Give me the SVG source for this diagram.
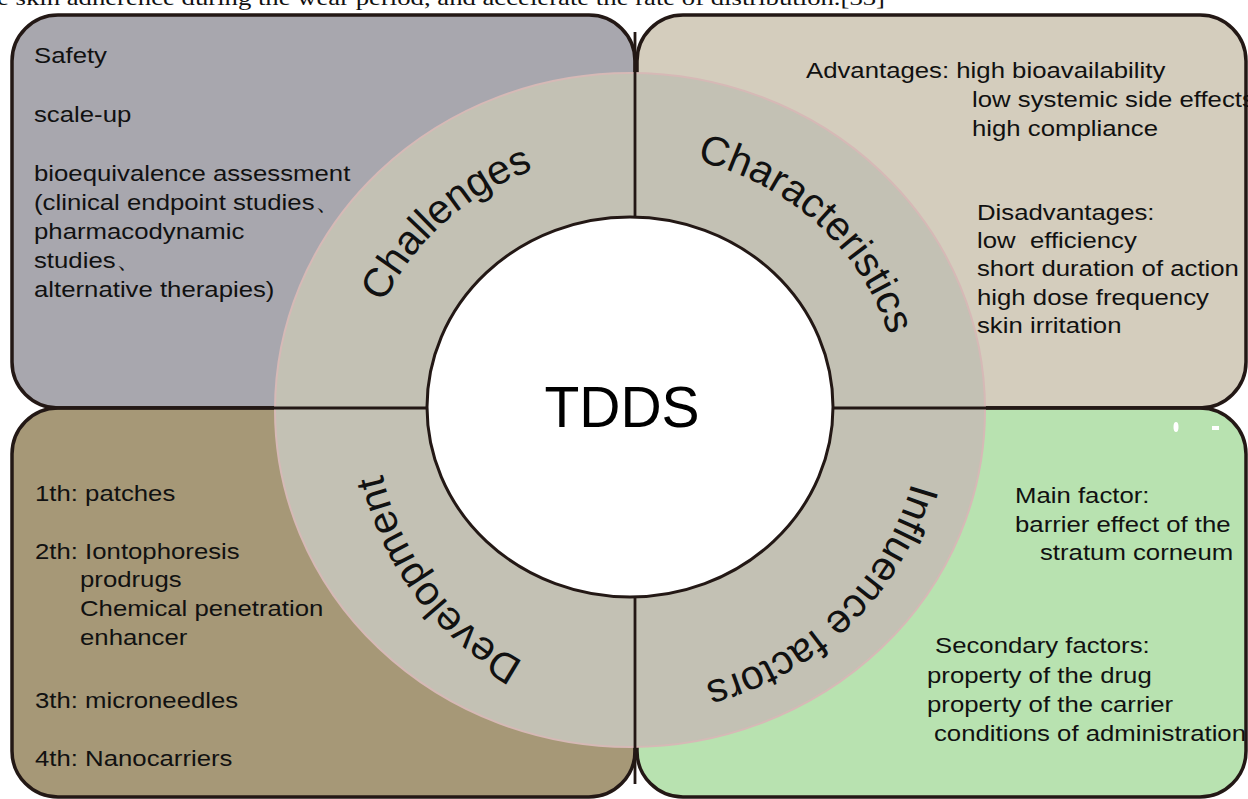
<svg xmlns="http://www.w3.org/2000/svg" xmlns:xlink="http://www.w3.org/1999/xlink" width="1248" height="799" viewBox="0 0 1248 799">
<style>
.box{stroke:#231815;stroke-width:3.5}
.t{font-family:"Liberation Sans",Arial,sans-serif;font-size:23px;fill:#111}
.lbl{font-family:"Liberation Sans",Arial,sans-serif;font-size:41px;fill:#111}
.div{stroke:#231815;stroke-width:2.8;fill:none}
</style>
<defs>
<path id="arc" d="M 900 408 A 270 255 0 1 1 360 408 A 270 255 0 1 1 900 408"/>
<path id="arcB" d="M 922 408 A 292 284 0 1 1 338 408 A 292 284 0 1 1 922 408"/>
<path id="arcD" d="M 915 408 A 270 284 0 1 1 375 408 A 270 284 0 1 1 915 408"/>
</defs>
<rect width="1248" height="799" fill="#ffffff"/>
<text x="-3" y="5" font-family="'Liberation Serif','Times New Roman',serif" font-size="21" fill="#111" textLength="888" lengthAdjust="spacingAndGlyphs">e skin adherence during the wear period, and accelerate the rate of distribution.[33]</text>

<g id="node-challenges">
<rect class="box" x="12" y="15" width="623" height="393" rx="46" ry="46" fill="#a8a7ae"/>
</g>
<g id="node-characteristics">
<rect class="box" x="637" y="15" width="609" height="393" rx="46" ry="46" fill="#d4cdbd"/>
</g>
<g id="node-development">
<rect class="box" x="12" y="408" width="623" height="389" rx="46" ry="46" fill="#a69877"/>
</g>
<g id="node-influence">
<rect class="box" x="637" y="408" width="609" height="389" rx="46" ry="46" fill="#b8e2b0"/>
<ellipse cx="1176" cy="427" rx="2.5" ry="5" fill="#ffffff"/>
<rect x="1212" y="426" width="7" height="4" fill="#ffffff"/>
</g>

<g id="ring">
<ellipse cx="630" cy="410" rx="355" ry="337" fill="#c3c1b4" stroke="#d6b9b6" stroke-width="2"/>
</g>

<g id="connectors">
<line class="div" x1="50" y1="408" x2="430" y2="408"/>
<line class="div" x1="830" y1="408" x2="1210" y2="408"/>
<line class="div" x1="635" y1="32" x2="635" y2="218"/>
<line class="div" x1="635" y1="595" x2="635" y2="784"/>
</g>

<g id="node-tdds">
<ellipse cx="630" cy="407" rx="203" ry="190" fill="#ffffff" stroke="#231815" stroke-width="3"/>
<text x="622" y="427" text-anchor="middle" font-family="'Liberation Sans',Arial,sans-serif" font-size="57" fill="#000">TDDS</text>
</g>

<g id="ring-labels">
<text class="lbl" text-anchor="middle"><textPath xlink:href="#arcB" href="#arcB" startOffset="12.5%">Influence factors</textPath></text>
<text class="lbl" text-anchor="middle"><textPath xlink:href="#arcD" href="#arcD" startOffset="39.2%">Development</textPath></text>
<text class="lbl" text-anchor="middle"><textPath xlink:href="#arc" href="#arc" startOffset="62.8%">Challenges</textPath></text>
<text class="lbl" text-anchor="middle"><textPath xlink:href="#arc" href="#arc" startOffset="87.3%">Characteristics</textPath></text>
</g>

<g id="text-challenges">
<text class="t" transform="translate(34,63) scale(1.12,1)">Safety</text>
<text class="t" transform="translate(34,122) scale(1.12,1)">scale-up</text>
<text class="t" transform="translate(34,181) scale(1.12,1)">bioequivalence assessment</text>
<text class="t" transform="translate(34,210) scale(1.12,1)">(clinical endpoint studies、</text>
<text class="t" transform="translate(34,239) scale(1.12,1)">pharmacodynamic</text>
<text class="t" transform="translate(34,268) scale(1.12,1)">studies、</text>
<text class="t" transform="translate(34,297) scale(1.12,1)">alternative therapies)</text>
</g>

<g id="text-characteristics">
<text class="t" transform="translate(806,78) scale(1.12,1)">Advantages: high bioavailability</text>
<text class="t" transform="translate(972,107) scale(1.12,1)">low systemic side effects</text>
<text class="t" transform="translate(972,136) scale(1.12,1)">high compliance</text>
<text class="t" transform="translate(977,220) scale(1.12,1)">Disadvantages:</text>
<text class="t" transform="translate(977,248) scale(1.12,1)" xml:space="preserve">low  efficiency</text>
<text class="t" transform="translate(977,276) scale(1.12,1)">short duration of action</text>
<text class="t" transform="translate(977,305) scale(1.12,1)">high dose frequency</text>
<text class="t" transform="translate(977,333) scale(1.12,1)">skin irritation</text>
</g>

<g id="text-development">
<text class="t" transform="translate(35,501) scale(1.12,1)">1th: patches</text>
<text class="t" transform="translate(35,559) scale(1.12,1)">2th: Iontophoresis</text>
<text class="t" transform="translate(80,587) scale(1.12,1)">prodrugs</text>
<text class="t" transform="translate(80,616) scale(1.12,1)">Chemical penetration</text>
<text class="t" transform="translate(80,645) scale(1.12,1)">enhancer</text>
<text class="t" transform="translate(35,708) scale(1.12,1)">3th: microneedles</text>
<text class="t" transform="translate(35,766) scale(1.12,1)">4th: Nanocarriers</text>
</g>

<g id="text-influence">
<text class="t" transform="translate(1015,503) scale(1.12,1)">Main factor:</text>
<text class="t" transform="translate(1015,532) scale(1.12,1)">barrier effect of the</text>
<text class="t" transform="translate(1040,560) scale(1.12,1)">stratum corneum</text>
<text class="t" transform="translate(935,653) scale(1.12,1)">Secondary factors:</text>
<text class="t" transform="translate(927,683) scale(1.12,1)">property of the drug</text>
<text class="t" transform="translate(927,712) scale(1.12,1)">property of the carrier</text>
<text class="t" transform="translate(934,741) scale(1.12,1)">conditions of administration</text>
</g>
</svg>
